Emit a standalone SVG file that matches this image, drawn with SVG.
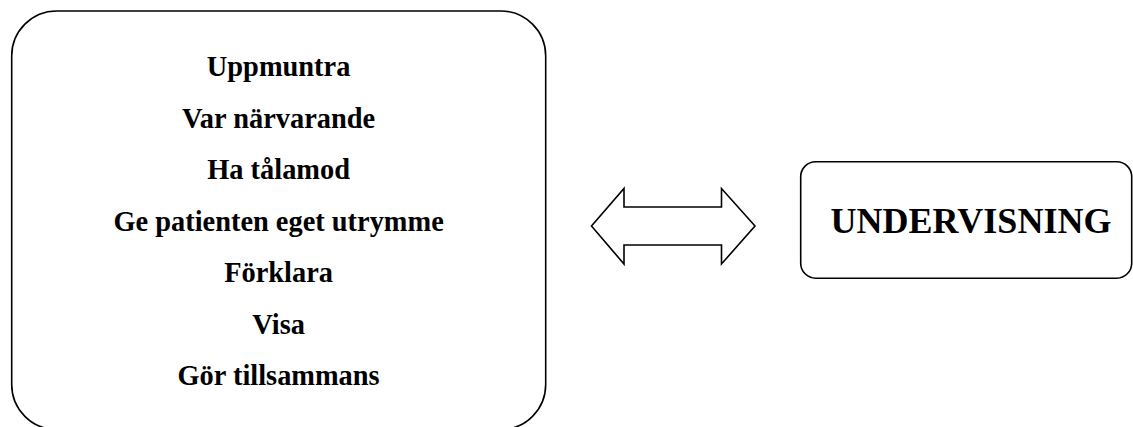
<svg xmlns="http://www.w3.org/2000/svg" width="1133" height="427" viewBox="0 0 1133 427">
<style>
.box{fill:#fff;stroke:#000;stroke-width:1.6}
.t{font-family:"Liberation Serif","Times New Roman",serif;font-weight:bold;fill:#000;text-anchor:middle}
.l{font-size:28.4px}
.big{font-size:36px}
</style>
<rect width="1133" height="427" fill="#fff"/>
<g id="left-node">
<rect class="box" x="11.7" y="11" width="534" height="418.5" rx="45" ry="45"/>
<text class="t l" x="278.6" y="76">Uppmuntra</text>
<text class="t l" x="278.6" y="128">Var närvarande</text>
<text class="t l" x="278.6" y="179">Ha tålamod</text>
<text class="t l" x="278.6" y="231">Ge patienten eget utrymme</text>
<text class="t l" x="278.6" y="282">Förklara</text>
<text class="t l" x="278.6" y="334">Visa</text>
<text class="t l" x="278.6" y="385">Gör tillsammans</text>
</g>
<g id="connectors">
<path class="box" d="M591.5,226 L624,188.5 L624,207 L721.5,207 L721.5,188.5 L755,226 L721.5,264 L721.5,245 L624,245 L624,264 Z"/>
</g>
<g id="right-node">
<rect class="box" x="800.7" y="161.7" width="331" height="116.5" rx="15" ry="15"/>
<text class="t big" x="971" y="233">UNDERVISNING</text>
</g>
</svg>
